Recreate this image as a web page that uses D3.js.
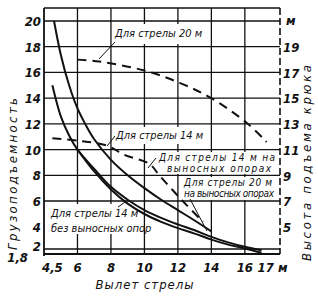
<!DOCTYPE html>
<html>
<head>
<meta charset="utf-8">
<script src="https://cdn.jsdelivr.net/npm/d3@7"></script>
<style>
  body { margin: 0; background: #fff; }
  svg text { font-family: "DejaVu Sans Condensed", "Liberation Sans Narrow", sans-serif; font-style: oblique; fill: #111; }
  .tick-label { font-size: 13px; font-weight: bold; }
  .note { font-size: 11px; }
  .note.small { font-size: 10px; }
  .title { font-size: 13px; }
</style>
</head>
<body>
<svg id="chart"></svg>
<script>
// x axis: boom reach, m
const xTicks = [4.5, 6, 8, 10, 12, 14, 16, 17];
const xTickLabels = ['4,5', '6', '8', '10', '12', '14', '16', '17 м'];
const xGrid = [6, 8, 10, 12, 14, 16];

// left axis: lifting capacity, t
const loadTicks = [1.8, 2, 4, 6, 8, 10, 12, 14, 16, 18, 20];
const loadTickLabels = ['1,8', '2', '4', '6', '8', '10', '12', '14', '16', '18', '20'];
const loadGrid = [2, 6, 8, 10, 12, 14, 16, 18, 20];

// right axis: hook height, m
const heightTicks = [5, 7, 9, 11, 13, 15, 17, 19];

// capacity, boom 14 m on outriggers
const load14OutX = [4.6, 5, 5.5, 6, 6.5, 7, 8, 9, 10, 11, 12, 13, 14];
const load14OutY = [20, 17.4, 15, 13.2, 11.9, 10.8, 9.2, 8.0, 7.0, 6.1, 5.3, 4.5, 3.6];
// capacity, boom 14 m without outriggers
const load14X = [4.5, 5, 5.5, 6, 7, 8, 9, 10, 11, 12, 13, 14, 15, 16, 17];
const load14Y = [15, 12.6, 11.1, 10.0, 8.5, 7.1, 6.1, 5.3, 4.7, 4.2, 3.7, 3.1, 2.6, 2.2, 1.95];
// capacity, boom 20 m on outriggers
const load20OutX = [6, 7, 8, 9, 10, 11, 12, 13, 14, 15, 16, 17];
const load20OutY = [10, 8.3, 6.9, 5.8, 5.0, 4.4, 3.9, 3.4, 2.85, 2.4, 2.05, 1.85];

// hook height, boom 20 m
const hook20X = [6, 7.3, 10, 12.1, 14, 16.1, 17.3];
const hook20Y = [18.0, 17.85, 17.15, 16.2, 15.0, 13.1, 11.6];
// hook height, boom 14 m
const hook14X = [4.5, 6.1, 7.8, 8.8, 10.3, 10.9, 12.3, 13.5];
const hook14Y = [11.9, 11.7, 11.3, 10.6, 9.9, 9.0, 7.0, 5.4];

const width = 318, height = 296;
const plot = { left: 44, right: 280, top: 8, bottom: 254 };

const svg = d3.select('#chart')
    .attr('width', width)
    .attr('height', height);

const x = d3.scaleLinear().domain([4, 18.1]).range([plot.left, plot.right]);
// the bottom of the capacity scale is squeezed
const yLoad = d3.scaleLinear().domain([1.8, 2, 4, 6, 20]).range([plot.bottom, 249, 227, 201, 21]);
// hook height reads one metre above the capacity grid
const yHook = d3.scaleLinear().domain([5, 21]).range([yLoad(4), yLoad(20)]);

const pts = (xs, ys) => xs.map((v, i) => [v, ys[i]]);

// grid
const grid = svg.append('g').attr('stroke', '#111').attr('stroke-width', 1.3);
grid.selectAll('.vg').data(xGrid).join('line')
    .attr('x1', d => x(d)).attr('x2', d => x(d))
    .attr('y1', plot.top).attr('y2', plot.bottom);
grid.selectAll('.hg').data(loadGrid).join('line')
    .attr('x1', plot.left).attr('x2', plot.right)
    .attr('y1', d => yLoad(d)).attr('y2', d => yLoad(d));
grid.append('line').attr('x1', plot.left).attr('x2', plot.right)
    .attr('y1', plot.top).attr('y2', plot.top);
grid.append('line').attr('x1', plot.left).attr('x2', plot.right)
    .attr('y1', plot.bottom).attr('y2', plot.bottom).attr('stroke-width', 1.8);
grid.append('line').attr('x1', plot.left).attr('x2', plot.left)
    .attr('y1', plot.top).attr('y2', plot.bottom + 2).attr('stroke-width', 1.8);
grid.append('line').attr('x1', plot.right).attr('x2', plot.right)
    .attr('y1', plot.top).attr('y2', plot.bottom)
    .attr('stroke-width', 1.6).attr('stroke-dasharray', '7,3');

// white boxes behind the notes
const boxes = [
    [112, 24, 96, 20],
    [113, 127, 94, 17],
    [157, 152, 121, 22],
    [183, 177, 94, 23],
    [49, 204, 82, 30]
];
svg.append('g').selectAll('rect').data(boxes).join('rect')
    .attr('x', d => d[0]).attr('y', d => d[1])
    .attr('width', d => d[2]).attr('height', d => d[3])
    .attr('fill', '#fff');

// curves
const loadLine = d3.line().x(d => x(d[0])).y(d => yLoad(d[1])).curve(d3.curveCatmullRom.alpha(0.5));
const hookLine = d3.line().x(d => x(d[0])).y(d => yHook(d[1])).curve(d3.curveCatmullRom.alpha(0.5));

const curves = svg.append('g').attr('fill', 'none').attr('stroke', '#111');
[pts(load14OutX, load14OutY), pts(load14X, load14Y), pts(load20OutX, load20OutY)].forEach(p => {
    curves.append('path').attr('d', loadLine(p)).attr('stroke-width', 2);
});
[pts(hook20X, hook20Y), pts(hook14X, hook14Y)].forEach(p => {
    curves.append('path').attr('d', hookLine(p))
        .attr('stroke-width', 2).attr('stroke-dasharray', '9,6');
});

// leaders
const leaders = [
    [115, 42, 99, 59],
    [115, 136, 107, 146],
    [156, 158, 148, 168],
    [190, 199, 207, 231],
    [118, 207, 128, 200]
];
svg.append('g').attr('stroke', '#111').attr('stroke-width', 1)
    .selectAll('line').data(leaders).join('line')
    .attr('x1', d => d[0]).attr('y1', d => d[1])
    .attr('x2', d => d[2]).attr('y2', d => d[3]);

// notes: x, y, text, width
const notes = [
    [115, 37, 'Для стрелы 20 м', 0],
    [116, 139, 'Для стрелы 14 м', 0],
    [159, 161, 'Для стрелы 14 м на', 116],
    [167, 172, 'выносных опорах', 104],
    [184, 186, 'Для стрелы 20 м', 88],
    [184, 197, 'на выносных опорах', 90],
    [51, 217, 'Для стрелы 14 м', 0],
    [51, 232, 'без выносных опор', 0]
];
svg.append('g').selectAll('text').data(notes).join('text')
    .attr('class', (d, i) => i >= 2 && i <= 5 ? 'note small' : 'note')
    .attr('x', d => d[0]).attr('y', d => d[1])
    .attr('textLength', d => d[3] || null)
    .text(d => d[2]);

// axis labels
svg.append('g').selectAll('text').data(xTicks).join('text')
    .attr('class', 'tick-label')
    .attr('x', d => x(d)).attr('y', 272)
    .attr('text-anchor', (d, i) => i === xTicks.length - 1 ? 'start' : 'middle')
    .attr('dx', (d, i) => i === xTicks.length - 1 ? -4 : 0)
    .text((d, i) => xTickLabels[i]);

svg.append('g').selectAll('text').data(loadTicks).join('text')
    .attr('class', 'tick-label')
    .attr('x', (d, i) => i === 0 ? 28 : 41)
    .attr('y', (d, i) => yLoad(d) + (i === 0 ? 8 : i === 1 ? 2 : 5))
    .attr('text-anchor', 'end')
    .text((d, i) => loadTickLabels[i]);

svg.append('g').selectAll('text').data(heightTicks).join('text')
    .attr('class', 'tick-label')
    .attr('x', 283).attr('y', d => yHook(d) + 5)
    .text(d => d);
svg.append('text').attr('class', 'tick-label')
    .attr('x', 286).attr('y', yHook(21) + 4).text('м');

// titles
svg.append('text').attr('class', 'title')
    .attr('x', 145).attr('y', 289).attr('text-anchor', 'middle')
    .attr('letter-spacing', 1)
    .text('Вылет стрелы');
svg.append('text').attr('class', 'title')
    .attr('transform', 'translate(17,174) rotate(-90)')
    .attr('text-anchor', 'middle')
    .attr('textLength', 152)
    .text('Грузоподъемность');
svg.append('text').attr('class', 'title')
    .attr('transform', 'translate(311,163) rotate(-90)')
    .attr('text-anchor', 'middle')
    .attr('textLength', 196)
    .text('Высота подъема крюка');
</script>
</body>
</html>
